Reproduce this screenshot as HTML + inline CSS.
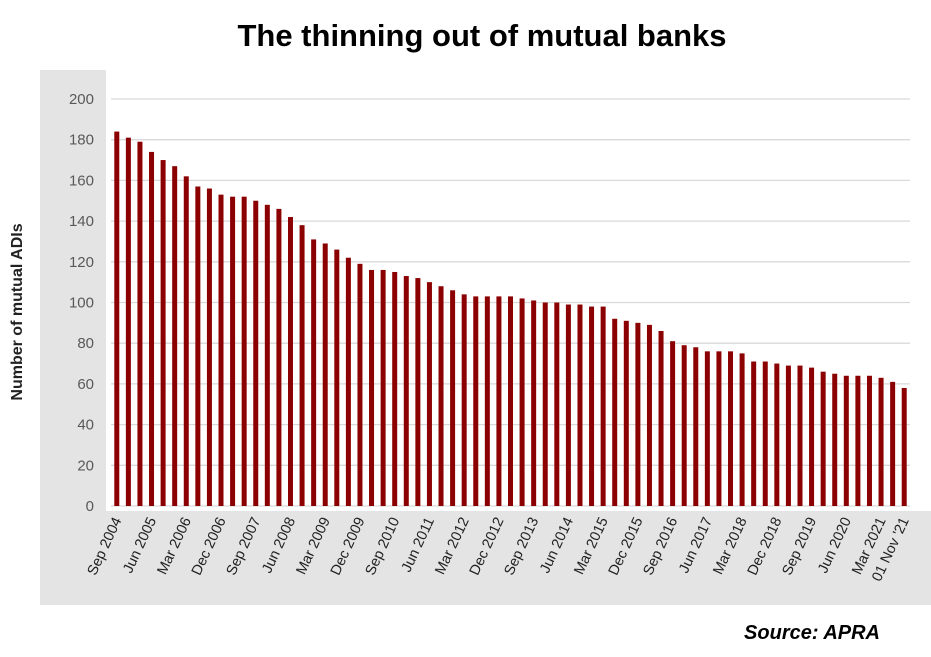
<!DOCTYPE html>
<html><head><meta charset="utf-8"><style>
body{margin:0;background:#fff;font-family:"Liberation Sans",sans-serif;}
svg text{font-family:"Liberation Sans",sans-serif;}
</style></head><body>
<svg id="c" width="931" height="652" viewBox="0 0 931 652" xmlns="http://www.w3.org/2000/svg">
<text x="482" y="46" text-anchor="middle" font-size="31" font-weight="bold" fill="#000">The thinning out of mutual banks</text>
<rect x="40" y="70" width="891" height="535" fill="#e4e4e4"/>
<rect x="106" y="70" width="825" height="441" fill="#fff"/>
<text transform="translate(22,312) rotate(-90)" text-anchor="middle" font-size="16" font-weight="bold" fill="#222">Number of mutual ADIs</text>
<g id="grid"></g><g id="bars"></g><g id="xl"></g>
<text x="880" y="639" text-anchor="end" font-size="20" font-style="italic" font-weight="bold" fill="#000">Source:  APRA</text>
</svg>
<script>
const values=[184,181,179,174,170,167,162,157,156,153,152,152,150,148,146,142,138,131,129,126,122,119,116,116,115,113,112,110,108,106,104,103,103,103,103,102,101,100,100,99,99,98,98,92,91,90,89,86,81,79,78,76,76,76,75,71,71,70,69,69,68,66,65,64,64,64,63,61,58];
const tickLabels=["Sep 2004","Jun 2005","Mar 2006","Dec 2006","Sep 2007","Jun 2008","Mar 2009","Dec 2009","Sep 2010","Jun 2011","Mar 2012","Dec 2012","Sep 2013","Jun 2014","Mar 2015","Dec 2015","Sep 2016","Jun 2017","Mar 2018","Dec 2018","Sep 2019","Jun 2020","Mar 2021","01 Nov '21"];
const yTicks=[0,20,40,60,80,100,120,140,160,180,200];
const NS="http://www.w3.org/2000/svg";
const x0=111,x1=910,y0=506,y1=99,yMax=200;
const step=(x1-x0)/values.length;
const y=v=>y0-(v/yMax)*(y0-y1);
const xc=i=>x0+step*(i+0.5);
const g=document.getElementById('grid'),b=document.getElementById('bars'),xl=document.getElementById('xl');
yTicks.forEach(t=>{
 const l=document.createElementNS(NS,'line');
 l.setAttribute('x1',x0);l.setAttribute('x2',x1);l.setAttribute('y1',y(t));l.setAttribute('y2',y(t));
 l.setAttribute('stroke','#d9d9d9');l.setAttribute('stroke-width','1.3');
 
 
 g.appendChild(l);
 const tx=document.createElementNS(NS,'text');
 tx.setAttribute('x',94);tx.setAttribute('y',y(t)+5);tx.setAttribute('text-anchor','end');
 tx.setAttribute('font-size','15');tx.setAttribute('fill','#595959');tx.textContent=t;
 
 
 g.appendChild(tx);
});
values.forEach((v,i)=>{
 const r=document.createElementNS(NS,'rect');
 r.setAttribute('x',xc(i)-2.5);r.setAttribute('width',5);r.setAttribute('y',y(v));r.setAttribute('height',y0-y(v));
 r.setAttribute('fill','#8b0000');
 
 
 b.appendChild(r);
});
tickLabels.forEach((s,k)=>{
 const i=k<tickLabels.length-1?k*3:values.length-1;
 const tx=document.createElementNS(NS,'text');
 const px=xc(i)+5,py=520;
 tx.setAttribute('transform','translate('+px+','+py+') rotate(-65)');
 tx.setAttribute('text-anchor','end');tx.setAttribute('font-size','14.5');tx.setAttribute('fill','#222');
 tx.textContent=s;
 
 
 xl.appendChild(tx);
});
</script>
</body></html>
